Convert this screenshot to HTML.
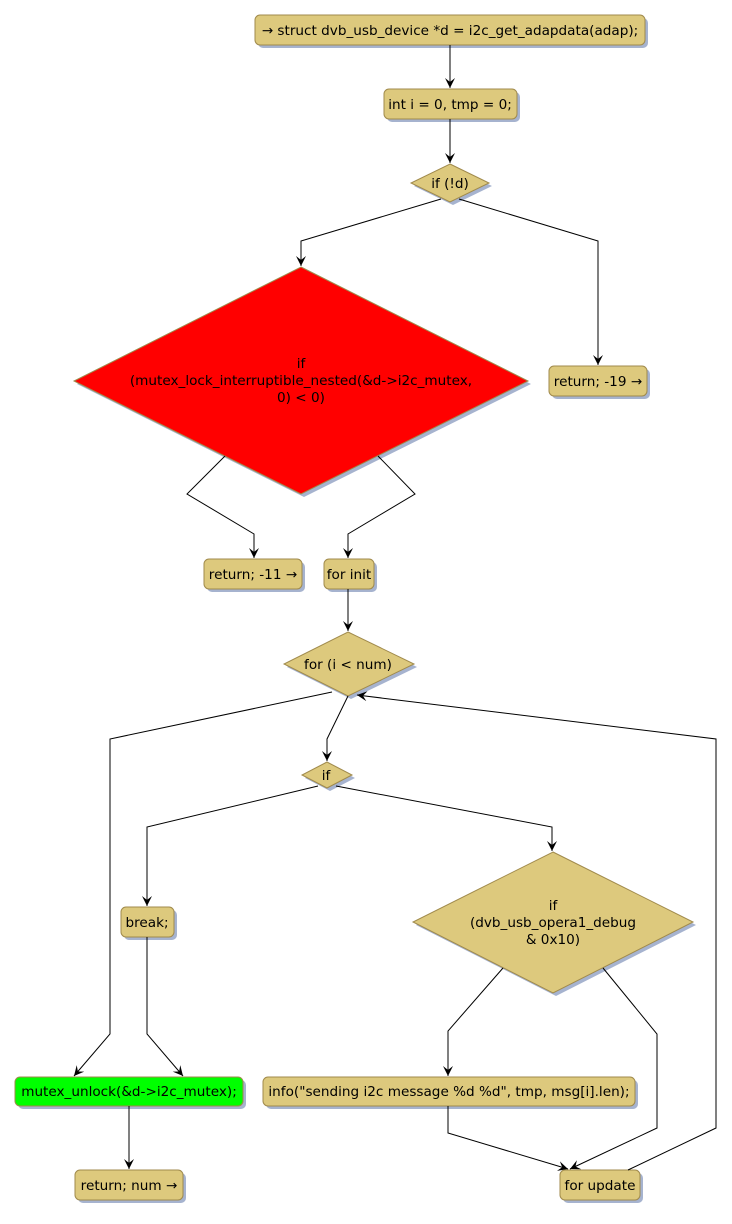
<!DOCTYPE html>
<html><head><meta charset="utf-8"><style>
html,body{margin:0;padding:0;background:#fff}
svg text{font-family:"DejaVu Sans","Liberation Sans",sans-serif;font-size:13.6px;fill:#000}
</style></head><body>
<svg width="732" height="1219" viewBox="0 0 732 1219" xmlns="http://www.w3.org/2000/svg">
<defs>
<marker id="a" markerWidth="12" markerHeight="12" refX="10" refY="5" orient="auto" markerUnits="userSpaceOnUse">
<path d="M0,0 L10,5 L0,10 L4,5 Z" fill="#000"/></marker>
</defs>
<g fill="#A6B3CF">
<rect x="258" y="18" width="390" height="30" rx="5"/>
<rect x="387" y="92" width="133" height="30" rx="5"/>
<polygon points="453,167 492,186 453,205 414,186"/>
<polygon points="304,270 531,384 304,497 77,384"/>
<rect x="552" y="369" width="98" height="30" rx="5"/>
<rect x="207" y="562" width="98" height="30" rx="5"/>
<rect x="327" y="562" width="50" height="30" rx="5"/>
<polygon points="351,635 417,667 351,699 287,667"/>
<polygon points="330,765 355,778 330,791 305,778"/>
<rect x="124" y="910" width="53" height="30" rx="5"/>
<polygon points="556,855 696,925 556,996 416,925"/>
<rect x="18" y="1080" width="228" height="29" rx="5"/>
<rect x="266" y="1080" width="372" height="29" rx="5"/>
<rect x="78" y="1173" width="108" height="30" rx="5"/>
<rect x="563" y="1173" width="80" height="30" rx="5"/>
</g>
<g fill="#DDC97D" stroke="#A08A4C" stroke-width="1">
<rect x="255" y="15" width="390" height="30" rx="5"/>
<rect x="384" y="89" width="133" height="30" rx="5"/>
<polygon points="450,164 489,183 450,202 411,183"/>
<polygon points="301,267 528,381 301,494 74,381" fill="#FF0000"/>
<rect x="549" y="366" width="98" height="30" rx="5"/>
<rect x="204" y="559" width="98" height="30" rx="5"/>
<rect x="324" y="559" width="50" height="30" rx="5"/>
<polygon points="348,632 414,664 348,696 284,664"/>
<polygon points="327,762 352,775 327,788 302,775"/>
<rect x="121" y="907" width="53" height="30" rx="5"/>
<polygon points="553,852 693,922 553,993 413,922"/>
<rect x="15" y="1077" width="228" height="29" rx="5" fill="#00FF00"/>
<rect x="263" y="1077" width="372" height="29" rx="5"/>
<rect x="75" y="1170" width="108" height="30" rx="5"/>
<rect x="560" y="1170" width="80" height="30" rx="5"/>
</g>
<g fill="none" stroke="#000" stroke-width="1">
<path d="M450,45 V88" marker-end="url(#a)"/>
<path d="M450,119 V163" marker-end="url(#a)"/>
<path d="M441,199 L301,241 V266" marker-end="url(#a)"/>
<path d="M459,199 L598,241 V365" marker-end="url(#a)"/>
<path d="M225,456 L187,494 L254,534 V558" marker-end="url(#a)"/>
<path d="M378,456 L415,494 L348,534 V558" marker-end="url(#a)"/>
<path d="M348,589 V631" marker-end="url(#a)"/>
<path d="M332,692 L110,739 V1034 L74,1076" marker-end="url(#a)"/>
<path d="M348,696 L327,739 V761" marker-end="url(#a)"/>
<path d="M628,1170 L716,1128 V739 L357,695" marker-end="url(#a)"/>
<path d="M318,786 L147,827 V906" marker-end="url(#a)"/>
<path d="M336,786 L552,827 V851" marker-end="url(#a)"/>
<path d="M147,937 V1034 L183,1076" marker-end="url(#a)"/>
<path d="M503,968 L448,1031 V1076" marker-end="url(#a)"/>
<path d="M603,968 L657,1034 V1128 L570,1169" marker-end="url(#a)"/>
<path d="M448,1106 V1133 L568,1169" marker-end="url(#a)"/>
<path d="M129,1106 V1169" marker-end="url(#a)"/>
</g>
<g text-anchor="middle">
<text x="450" y="35">→ struct dvb_usb_device *d = i2c_get_adapdata(adap);</text>
<text x="450" y="109">int i = 0, tmp = 0;</text>
<text x="450" y="188">if (!d)</text>
<text x="301" y="368">if</text>
<text x="301" y="385">(mutex_lock_interruptible_nested(&amp;d-&gt;i2c_mutex,</text>
<text x="301" y="402">0) &lt; 0)</text>
<text x="598" y="386">return; -19 →</text>
<text x="253" y="579">return; -11 →</text>
<text x="349" y="579">for init</text>
<text x="348" y="669">for (i &lt; num)</text>
<text x="326" y="780">if</text>
<text x="147" y="927">break;</text>
<text x="553" y="910">if</text>
<text x="553" y="927">(dvb_usb_opera1_debug</text>
<text x="553" y="944">&amp; 0x10)</text>
<text x="129" y="1096">mutex_unlock(&amp;d-&gt;i2c_mutex);</text>
<text x="449" y="1096">info("sending i2c message %d %d", tmp, msg[i].len);</text>
<text x="129" y="1190">return; num →</text>
<text x="600" y="1190">for update</text>
</g>
</svg>
</body></html>
